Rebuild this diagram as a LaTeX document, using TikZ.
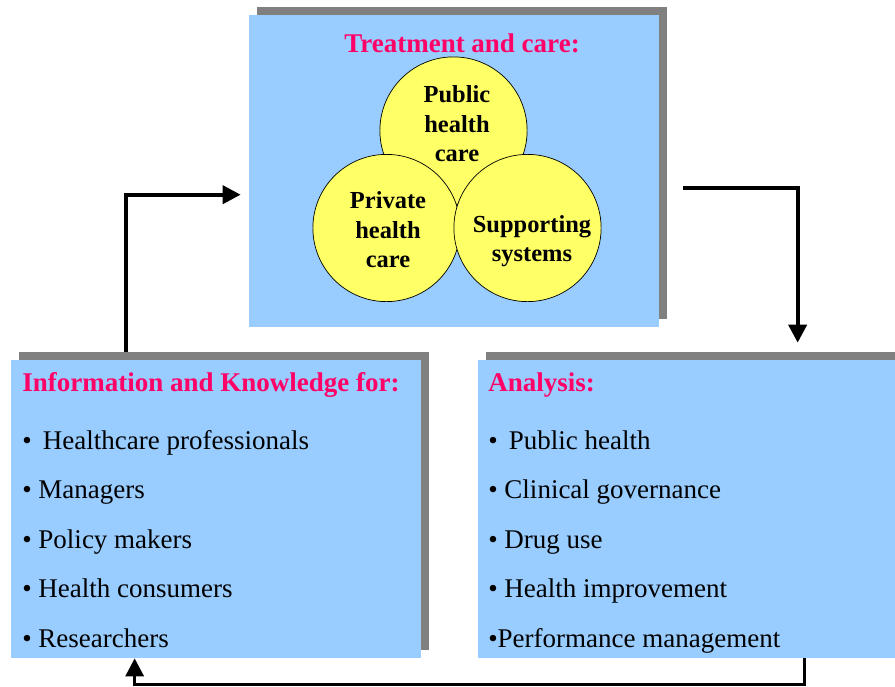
\documentclass[tikz,border=0pt]{standalone}
\usepackage{fontspec}
\setmainfont{Liberation Serif}
\usetikzlibrary{arrows.meta,calc,shadows}
\definecolor{boxblue}{RGB}{153,204,255}
\definecolor{shadegray}{RGB}{128,128,128}
\definecolor{headpink}{RGB}{255,0,102}
\definecolor{circyellow}{RGB}{255,255,102}
\tikzset{
  panel/.style={rectangle, fill=boxblue, inner sep=0pt, drop shadow={shadow xshift=0.21cm, shadow yshift=0.21cm, fill=shadegray, opacity=1}},
  circ/.style={circle, draw, fill=circyellow, inner sep=0pt, minimum size=3.68cm, line width=0.5pt},
  ctext/.style={align=center, inner sep=0pt, font=\fontsize{17.4}{21}\selectfont\bfseries},
  head/.style={anchor=base west, inner sep=0pt, text=headpink, font=\fontsize{19.2}{23}\selectfont\bfseries},
  item/.style={anchor=base west, inner sep=0pt, font=\fontsize{19.2}{23}\selectfont},
  conn/.style={-{Triangle[length=0.45cm,width=0.45cm]}, line width=2.8pt}
}
\begin{document}
\begin{tikzpicture}[x=0.025cm, y=-0.025cm]
    \useasboundingbox (0,0) rectangle (895,686);
    \clip (0,0) rectangle (895,686);

    % Treatment and care - top panel with three circles
    \node[panel, minimum width=10.25cm, minimum height=7.8cm] (carebox) at (454,171) {};
    \node[head, anchor=base] (carehead) at (462,52) {Treatment and care:};
    \node[circ] (pubc) at (453.5,130.5) {};
    \node[circ] (privc) at (386.5,228) {};
    \node[circ] (suppc) at (527.5,228) {};
    \node[ctext] (pubt) at (457,124) {Public\\health\\care};
    \node[ctext] (privt) at (388,230) {Private\\health\\care};
    \node[ctext] (suppt) at (532,241) {Supporting\\systems};

    % Information and knowledge - lower left panel
    \node[panel, minimum width=10.25cm, minimum height=7.45cm] (infobox) at (216,509) {};
    \node[head] (infohead) at (22,391) {Information and Knowledge for:};
    \foreach \txt [count=\i] in {{\textbullet\ \,Healthcare professionals}, {\textbullet\ Managers},
        {\textbullet\ Policy makers}, {\textbullet\ Health consumers}, {\textbullet\ Researchers}}
        \node[item] (info\i) at (22, {449+49.5*(\i-1)}) {\txt};

    % Analysis - lower right panel
    \node[panel, minimum width=10.675cm, minimum height=7.45cm] (anabox) at (691.5,509) {};
    \node[head] (anahead) at (488,391) {Analysis:};
    \foreach \txt [count=\i] in {{\textbullet\ \,Public health}, {\textbullet\ Clinical governance},
        {\textbullet\ Drug use}, {\textbullet\ Health improvement}, {\textbullet Performance management}}
        \node[item] (ana\i) at (488, {449+49.5*(\i-1)}) {\txt};

    % Cycle arrows
    \draw[conn] ($(infobox.north west)+(115,-8)$) |- ($(carebox.north west)+(-8,180)$);
    \draw[conn] ($(carebox.north east)+(24,173)$) -| ($(anabox.north west)+(320,-17)$);
    \draw[conn, line width=2.2pt] ($(anabox.south west)+(327,0)$) -- ++(0,26) -| ($(infobox.south west)+(124,0)$);
\end{tikzpicture}
\end{document}
